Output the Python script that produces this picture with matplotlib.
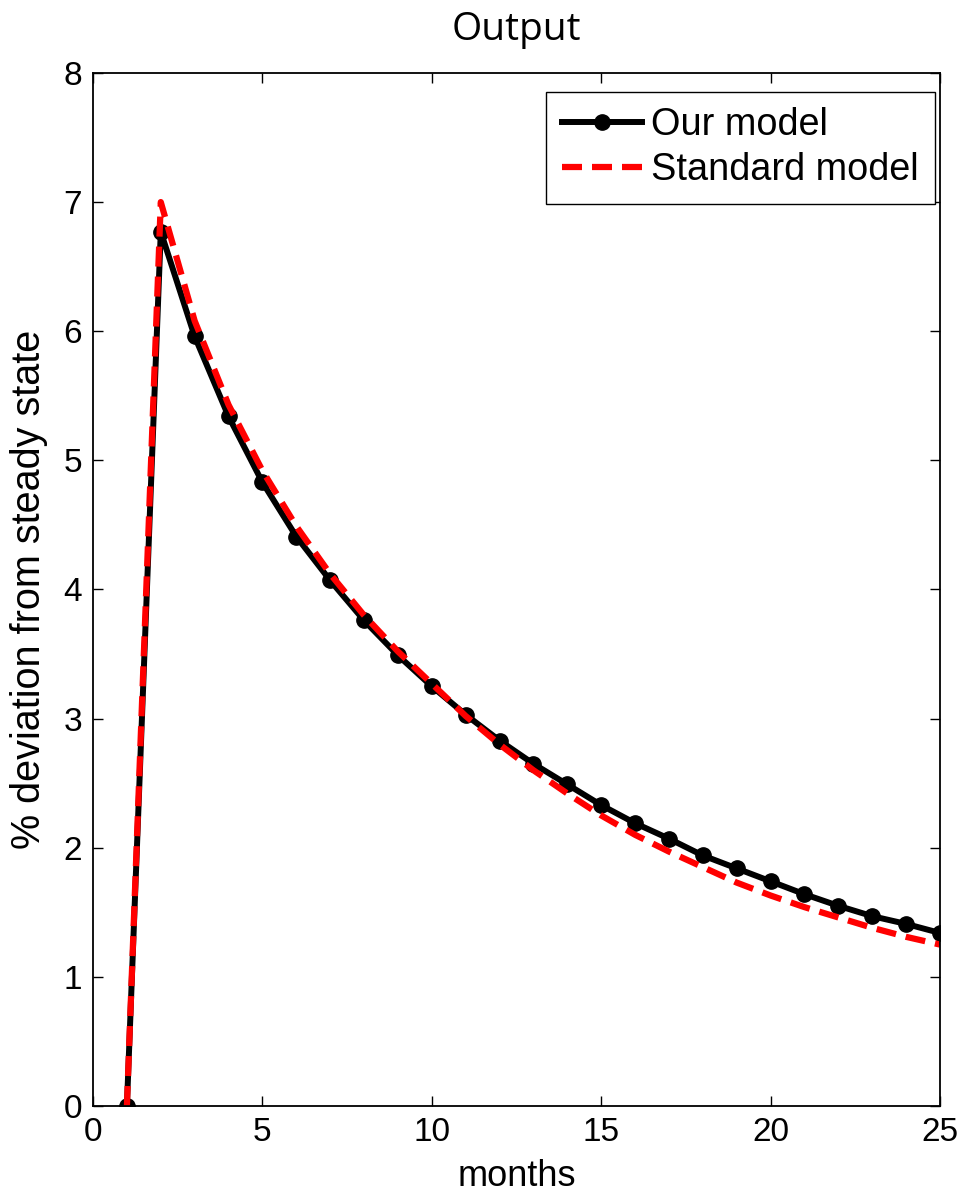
import matplotlib
matplotlib.use('Agg')
import matplotlib.pyplot as plt
import numpy as np

plt.rcParams['font.family'] = ['Liberation Sans', 'DejaVu Sans']

# data
months = np.arange(1, 26)
our_model = [0.0, 6.77, 5.96, 5.34, 4.83, 4.41, 4.07, 3.76, 3.49, 3.25,
             3.03, 2.83, 2.65, 2.49, 2.33, 2.19, 2.07, 1.94, 1.84, 1.74,
             1.64, 1.55, 1.47, 1.41, 1.34]
standard_model = [0.0, 7.0, 6.08, 5.43, 4.92, 4.49, 4.12, 3.80, 3.52, 3.27,
                  3.02, 2.80, 2.60, 2.42, 2.25, 2.10, 1.97, 1.85, 1.73, 1.63,
                  1.54, 1.46, 1.38, 1.31, 1.25]

fig = plt.figure(figsize=(9.65, 11.94), dpi=100)
ax = fig.add_axes([0.0964, 0.0737, 0.8777, 0.8652])

ax.plot(months, our_model, color='black', linewidth=4.3, marker='o',
        markersize=11, label='Our model')
ax.plot(months, standard_model, color='red', linewidth=4.5, linestyle='--',
        dashes=(3.2, 1.6), label='Standard model')

ax.set_xlim(0, 25)
ax.set_ylim(0, 8)
ax.set_xticks([0, 5, 10, 15, 20, 25])
ax.set_yticks(range(0, 9))
ax.tick_params(direction='in', top=True, right=True, labelsize=24,
               length=7, width=1, pad=8)
for s in ax.spines.values():
    s.set_linewidth(1.3)

ax.set_title('Output', fontsize=28, pad=24, family=['Open Sans', 'DejaVu Sans'])
ax.set_xlabel('months', fontsize=26, labelpad=8)
ax.set_ylabel('% deviation from steady state', fontsize=28.5, labelpad=11)

leg = ax.legend(loc='upper right', bbox_to_anchor=(0.994, 0.982),
                borderaxespad=0, fontsize=27.3, fancybox=False,
                edgecolor='black', framealpha=1, handlelength=2.1,
                handletextpad=0.25, labelspacing=0.22, borderpad=0.42)
leg.get_frame().set_linewidth(1)

fig.savefig('out.png', dpi=100)
